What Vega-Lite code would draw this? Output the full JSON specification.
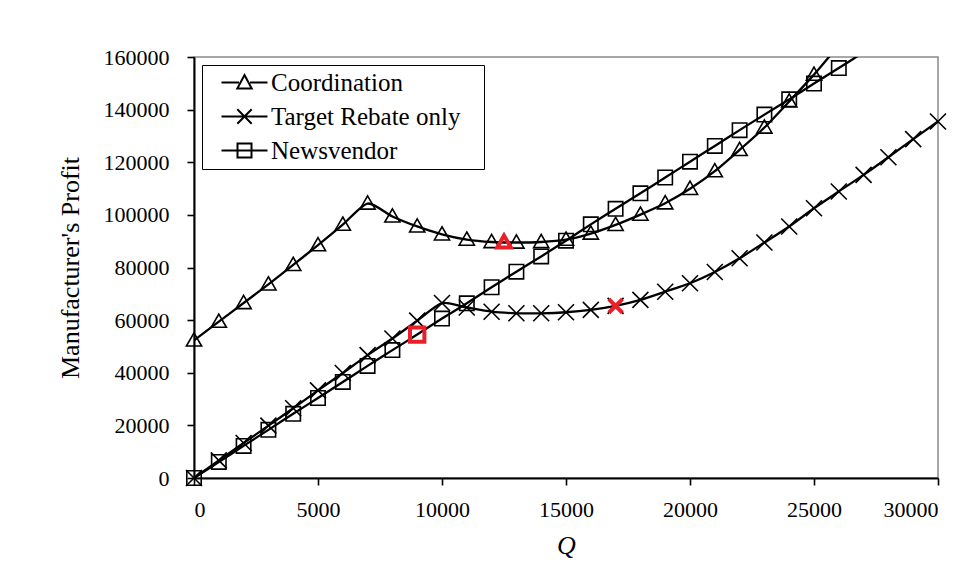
{
  "$schema": "https://vega.github.io/schema/vega-lite/v6.json",
  "width": 744,
  "height": 421,
  "autosize": {"type": "none"},
  "padding": {"left": 194, "top": 57, "right": 38, "bottom": 91},
  "background": "white",
  "datasets": {
    "curves": [
      {"series": "Coordination", "Q": 0, "profit": 52300},
      {"series": "Coordination", "Q": 1000, "profit": 59400},
      {"series": "Coordination", "Q": 2000, "profit": 66500},
      {"series": "Coordination", "Q": 3000, "profit": 73600},
      {"series": "Coordination", "Q": 4000, "profit": 81000},
      {"series": "Coordination", "Q": 5000, "profit": 88500},
      {"series": "Coordination", "Q": 6000, "profit": 96300},
      {"series": "Coordination", "Q": 7000, "profit": 104300},
      {"series": "Coordination", "Q": 8000, "profit": 99400},
      {"series": "Coordination", "Q": 9000, "profit": 95600},
      {"series": "Coordination", "Q": 10000, "profit": 92600},
      {"series": "Coordination", "Q": 11000, "profit": 90600},
      {"series": "Coordination", "Q": 12000, "profit": 89700},
      {"series": "Coordination", "Q": 13000, "profit": 89500},
      {"series": "Coordination", "Q": 14000, "profit": 89700},
      {"series": "Coordination", "Q": 15000, "profit": 90600},
      {"series": "Coordination", "Q": 16000, "profit": 92900},
      {"series": "Coordination", "Q": 17000, "profit": 96200},
      {"series": "Coordination", "Q": 18000, "profit": 100100},
      {"series": "Coordination", "Q": 19000, "profit": 104400},
      {"series": "Coordination", "Q": 20000, "profit": 109900},
      {"series": "Coordination", "Q": 21000, "profit": 116600},
      {"series": "Coordination", "Q": 22000, "profit": 124700},
      {"series": "Coordination", "Q": 23000, "profit": 133200},
      {"series": "Coordination", "Q": 24000, "profit": 143100},
      {"series": "Coordination", "Q": 25000, "profit": 153300},
      {"series": "Coordination", "Q": 26000, "profit": 164500},
      {"series": "Target Rebate only", "Q": 0, "profit": 0},
      {"series": "Target Rebate only", "Q": 1000, "profit": 6700},
      {"series": "Target Rebate only", "Q": 2000, "profit": 13300},
      {"series": "Target Rebate only", "Q": 3000, "profit": 19900},
      {"series": "Target Rebate only", "Q": 4000, "profit": 26500},
      {"series": "Target Rebate only", "Q": 5000, "profit": 33300},
      {"series": "Target Rebate only", "Q": 6000, "profit": 39900},
      {"series": "Target Rebate only", "Q": 7000, "profit": 46700},
      {"series": "Target Rebate only", "Q": 8000, "profit": 53000},
      {"series": "Target Rebate only", "Q": 9000, "profit": 59800},
      {"series": "Target Rebate only", "Q": 10000, "profit": 66500},
      {"series": "Target Rebate only", "Q": 11000, "profit": 64800},
      {"series": "Target Rebate only", "Q": 12000, "profit": 63200},
      {"series": "Target Rebate only", "Q": 13000, "profit": 62600},
      {"series": "Target Rebate only", "Q": 14000, "profit": 62600},
      {"series": "Target Rebate only", "Q": 15000, "profit": 63000},
      {"series": "Target Rebate only", "Q": 16000, "profit": 63900},
      {"series": "Target Rebate only", "Q": 17000, "profit": 65400},
      {"series": "Target Rebate only", "Q": 18000, "profit": 67700},
      {"series": "Target Rebate only", "Q": 19000, "profit": 70800},
      {"series": "Target Rebate only", "Q": 20000, "profit": 74000},
      {"series": "Target Rebate only", "Q": 21000, "profit": 78300},
      {"series": "Target Rebate only", "Q": 22000, "profit": 83500},
      {"series": "Target Rebate only", "Q": 23000, "profit": 89500},
      {"series": "Target Rebate only", "Q": 24000, "profit": 95600},
      {"series": "Target Rebate only", "Q": 25000, "profit": 102500},
      {"series": "Target Rebate only", "Q": 26000, "profit": 108900},
      {"series": "Target Rebate only", "Q": 27000, "profit": 115200},
      {"series": "Target Rebate only", "Q": 28000, "profit": 121900},
      {"series": "Target Rebate only", "Q": 29000, "profit": 128800},
      {"series": "Target Rebate only", "Q": 30000, "profit": 135500},
      {"series": "Newsvendor", "Q": 0, "profit": 0},
      {"series": "Newsvendor", "Q": 1000, "profit": 6100},
      {"series": "Newsvendor", "Q": 2000, "profit": 12200},
      {"series": "Newsvendor", "Q": 3000, "profit": 18300},
      {"series": "Newsvendor", "Q": 4000, "profit": 24400},
      {"series": "Newsvendor", "Q": 5000, "profit": 30400},
      {"series": "Newsvendor", "Q": 6000, "profit": 36500},
      {"series": "Newsvendor", "Q": 7000, "profit": 42600},
      {"series": "Newsvendor", "Q": 8000, "profit": 48600},
      {"series": "Newsvendor", "Q": 9000, "profit": 54500},
      {"series": "Newsvendor", "Q": 10000, "profit": 60600},
      {"series": "Newsvendor", "Q": 11000, "profit": 66400},
      {"series": "Newsvendor", "Q": 12000, "profit": 72500},
      {"series": "Newsvendor", "Q": 13000, "profit": 78400},
      {"series": "Newsvendor", "Q": 14000, "profit": 84200},
      {"series": "Newsvendor", "Q": 15000, "profit": 90200},
      {"series": "Newsvendor", "Q": 16000, "profit": 96400},
      {"series": "Newsvendor", "Q": 17000, "profit": 102300},
      {"series": "Newsvendor", "Q": 18000, "profit": 108200},
      {"series": "Newsvendor", "Q": 19000, "profit": 114200},
      {"series": "Newsvendor", "Q": 20000, "profit": 120200},
      {"series": "Newsvendor", "Q": 21000, "profit": 126200},
      {"series": "Newsvendor", "Q": 22000, "profit": 132200},
      {"series": "Newsvendor", "Q": 23000, "profit": 138100},
      {"series": "Newsvendor", "Q": 24000, "profit": 143900},
      {"series": "Newsvendor", "Q": 25000, "profit": 149900},
      {"series": "Newsvendor", "Q": 26000, "profit": 155800},
      {"series": "Newsvendor", "Q": 27000, "profit": 161800}
    ],
    "optima": [
      {"series": "Coordination", "Q": 12500, "profit": 89600},
      {"series": "Target Rebate only", "Q": 17000, "profit": 65400},
      {"series": "Newsvendor", "Q": 9000, "profit": 54500}
    ]
  },
  "data": {"name": "curves"},
  "encoding": {
    "x": {
      "field": "Q", "type": "quantitative",
      "scale": {"domain": [0, 30000], "nice": false},
      "axis": {
        "title": "Q", "titleFontStyle": "italic", "titleFontSize": 26, "titlePadding": 12,
        "values": [0, 5000, 10000, 15000, 20000, 25000, 30000], "format": "d",
        "labelPadding": 14
      }
    },
    "y": {
      "field": "profit", "type": "quantitative",
      "scale": {"domain": [0, 160000], "nice": false},
      "axis": {
        "title": "Manufacturer's Profit", "titleFontSize": 26, "titlePadding": 20,
        "values": [0, 20000, 40000, 60000, 80000, 100000, 120000, 140000, 160000], "format": "d",
        "labelPadding": 18
      }
    }
  },
  "layer": [
    {
      "mark": {"type": "line", "color": "black", "strokeWidth": 2.3, "interpolate": "cardinal", "tension": 0.3, "clip": true},
      "encoding": {"detail": {"field": "series"}}
    },
    {
      "transform": [{"filter": "datum.profit <= 160000"}],
      "mark": {"type": "point", "filled": false, "color": "black", "strokeWidth": 1.6, "size": 256, "opacity": 1},
      "encoding": {
        "shape": {
          "field": "series", "type": "nominal",
          "scale": {
            "domain": ["Coordination", "Target Rebate only", "Newsvendor"],
            "range": ["M0,-0.95L0.95,0.7L-0.95,0.7Z", "M-1,-1L1,1M-1,1L1,-1", "M-0.9,-0.9H0.9V0.9H-0.9Z"]
          },
          "legend": null
        }
      }
    },
    {
      "data": {"name": "optima"},
      "mark": {"type": "point", "filled": false, "color": "#e8202a", "strokeWidth": 4, "size": 256, "opacity": 1},
      "encoding": {
        "shape": {
          "field": "series", "type": "nominal",
          "scale": {
            "domain": ["Coordination", "Target Rebate only", "Newsvendor"],
            "range": ["M0,-0.85L0.85,0.65L-0.85,0.65Z", "M-0.85,-0.85L0.85,0.85M-0.85,0.85L0.85,-0.85", "M-0.9,-0.9H0.9V0.9H-0.9Z"]
          },
          "legend": null
        }
      }
    },
    {
      "transform": [{"filter": "datum.Q < 0"}],
      "mark": {"type": "point", "filled": false, "color": "black", "strokeWidth": 2, "size": 400, "opacity": 1},
      "encoding": {
        "shape": {
          "field": "series", "type": "nominal",
          "scale": {
            "domain": ["Coordination", "Target Rebate only", "Newsvendor"],
            "range": [
              "M-2.3,0L-0.55,0M0.55,0L2.3,0M0,-0.75L0.72,0.6L-0.72,0.6ZM23,0",
              "M-2.3,0L2.3,0M-0.72,-0.72L0.72,0.72M-0.72,0.72L0.72,-0.72M23,0",
              "M-2.3,0L2.3,0M-0.7,-0.7H0.7V0.7H-0.7ZM23,0"
            ]
          },
          "legend": {
            "title": null,
            "orient": "top-left",
            "offset": 8,
            "padding": 5,
            "symbolOffset": 25,
            "labelOffset": 14,
            "rowPadding": 8,
            "labelLimit": 400,
            "strokeColor": "black",
            "fillColor": "white",
            "symbolSize": 400,
            "symbolStrokeWidth": 2,
            "symbolStrokeColor": "black",
            "symbolFillColor": "transparent",
            "labelFontSize": 25
          }
        }
      }
    }
  ],
  "resolve": {"scale": {"shape": "independent"}, "legend": {"shape": "independent"}},
  "config": {
    "font": "Liberation Serif",
    "view": {"stroke": "#8a8a8a", "strokeWidth": 1.5},
    "axis": {
      "grid": false,
      "domainColor": "black", "domainWidth": 2,
      "tickColor": "black", "tickWidth": 1.6, "tickSize": 7,
      "labelFont": "Liberation Serif", "labelFontSize": 22, "labelColor": "black",
      "titleFont": "Liberation Serif", "titleFontWeight": "normal", "titleColor": "black"
    },
    "legend": {"labelFont": "Liberation Serif", "labelColor": "black"}
  }
}
